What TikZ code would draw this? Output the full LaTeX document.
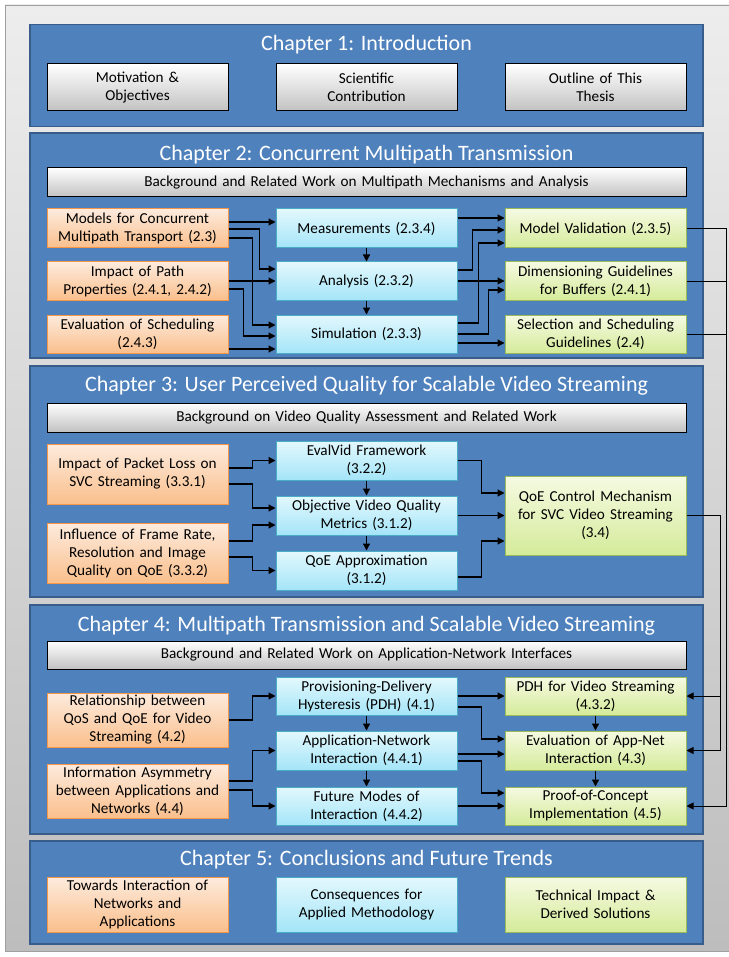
\documentclass[tikz,border=0pt]{standalone}
\usepackage{fontspec}
\setmainfont{Carlito}
\usetikzlibrary{arrows.meta}

\definecolor{bgtop}{HTML}{EDEDED}
\definecolor{bgbot}{HTML}{BDBDBD}
\definecolor{chapblue}{HTML}{4F81BD}
\definecolor{chapedge}{HTML}{385D8A}
\definecolor{ortop}{HTML}{FDEBDD}
\definecolor{orbot}{HTML}{FABF8C}
\definecolor{oredge}{HTML}{F79646}
\definecolor{cytop}{HTML}{E3F8FD}
\definecolor{cybot}{HTML}{A4E5F8}
\definecolor{cyedge}{HTML}{4BACC6}
\definecolor{grtop}{HTML}{F5FAE2}
\definecolor{grbot}{HTML}{D5EB9A}
\definecolor{gredge}{HTML}{9BBB59}

\tikzset{
  chapbox/.style={fill=chapblue, draw=chapedge, line width=1.6pt, minimum width=673pt},
  chaptitle/.style={text=white, font=\fontsize{22}{26}\selectfont, inner sep=0pt},
  item/.style={minimum width=181pt, text width=176pt, align=center, inner sep=0pt,
    font=\fontsize{15.2}{18}\selectfont, line width=1pt},
  graybox/.style={item, top color=white, bottom color=gray!48, draw=black},
  orbox/.style={item, top color=ortop, bottom color=orbot, draw=oredge},
  cybox/.style={item, top color=cytop, bottom color=cybot, draw=cyedge},
  grbox/.style={item, top color=grtop, bottom color=grbot, draw=gredge},
  bgbox/.style={graybox, minimum width=639pt, text width=630pt, minimum height=29pt},
  conn/.style={-{Triangle[length=7pt,width=7pt]}, line width=1.2pt},
  rail/.style={line width=0.9pt},
  railarrow/.style={rail, -{Triangle[length=7pt,width=7pt]}}
}

\begin{document}
\begin{tikzpicture}[x=1pt,y=-1pt]
\useasboundingbox (0,0) rectangle (728,957);
\path[top color=bgtop, bottom color=bgbot, draw=gray!75] (5,5) rectangle (745,951);

\node[chapbox, minimum height=102pt] (ch1) at (366.5,75.5) {};
\node[chapbox, minimum height=225pt] (ch2) at (366.5,245.5) {};
\node[chapbox, minimum height=231pt] (ch3) at (366.5,481.5) {};
\node[chapbox, minimum height=229pt] (ch4) at (366.5,719.5) {};
\node[chapbox, minimum height=103pt] (ch5) at (366.5,892.5) {};

\node[chaptitle] (t1) at (366.5,45) {Chapter 1: Introduction};
\node[chaptitle] (t2) at (366.5,155) {Chapter 2: Concurrent Multipath Transmission};
\node[chaptitle] (t3) at (366.5,386) {Chapter 3: User Perceived Quality for Scalable Video Streaming};
\node[chaptitle] (t4) at (366.5,626) {Chapter 4: Multipath Transmission and Scalable Video Streaming};
\node[chaptitle] (t5) at (366.5,860) {Chapter 5: Conclusions and Future Trends};

\node[graybox, minimum height=47pt] (motiv) at (137.5,87.5) {Motivation \&\\Objectives};
\node[graybox, minimum height=47pt] (contrib) at (366.5,87.5) {Scientific\\Contribution};
\node[graybox, minimum height=47pt] (outline) at (595.5,87.5) {Outline of This\\Thesis};

\node[bgbox] (bg2) at (366.5,182.5) {Background and Related Work on Multipath Mechanisms and Analysis};
\node[orbox, minimum height=39pt] (models) at (137.5,228.5) {Models for Concurrent\\Multipath Transport (2.3)};
\node[orbox, minimum height=38pt] (impact) at (137.5,281) {Impact of Path\\Properties (2.4.1, 2.4.2)};
\node[orbox, minimum height=38pt] (evalsched) at (137.5,334) {Evaluation of Scheduling\\(2.4.3)};
\node[cybox, minimum height=39pt] (meas) at (366.5,228.5) {Measurements (2.3.4)};
\node[cybox, minimum height=38pt] (ana) at (366.5,281) {Analysis (2.3.2)};
\node[cybox, minimum height=38pt] (sim) at (366.5,334) {Simulation (2.3.3)};
\node[grbox, minimum height=39pt] (mv) at (595.5,228.5) {Model Validation (2.3.5)};
\node[grbox, minimum height=38pt] (dim) at (595.5,281) {Dimensioning Guidelines\\for Buffers (2.4.1)};
\node[grbox, minimum height=38pt] (sel) at (595.5,334) {Selection and Scheduling\\Guidelines (2.4)};

\node[bgbox] (bg3) at (366.5,417.5) {Background on Video Quality Assessment and Related Work};
\node[orbox, minimum height=60pt] (pktloss) at (137.5,474) {Impact of Packet Loss on\\SVC Streaming (3.3.1)};
\node[orbox, minimum height=60pt] (framerate) at (137.5,553) {Influence of Frame Rate,\\Resolution and Image\\Quality on QoE (3.3.2)};
\node[cybox, minimum height=39pt] (evalvid) at (366.5,460.5) {EvalVid Framework\\(3.2.2)};
\node[cybox, minimum height=39pt] (objq) at (366.5,515.5) {Objective Video Quality\\Metrics (3.1.2)};
\node[cybox, minimum height=39pt] (qoeapx) at (366.5,570.5) {QoE Approximation\\(3.1.2)};
\node[grbox, minimum height=79pt] (qoectl) at (595.5,515.5) {QoE Control Mechanism\\for SVC Video Streaming\\(3.4)};

\node[bgbox, minimum height=28pt] (bg4) at (366.5,655) {Background and Related Work on Application-Network Interfaces};
\node[orbox, minimum height=54pt] (relqos) at (137.5,720) {Relationship between\\QoS and QoE for Video\\Streaming (4.2)};
\node[orbox, minimum height=54pt] (infoasym) at (137.5,791) {Information Asymmetry\\between Applications and\\Networks (4.4)};
\node[cybox, minimum height=38pt] (pdhp) at (366.5,696) {Provisioning-Delivery\\Hysteresis (PDH) (4.1)};
\node[cybox, minimum height=39pt] (appnet) at (366.5,750.5) {Application-Network\\Interaction (4.4.1)};
\node[cybox, minimum height=38pt] (future) at (366.5,806) {Future Modes of\\Interaction (4.4.2)};
\node[grbox, minimum height=38pt] (pdhvid) at (595.5,696) {PDH for Video Streaming\\(4.3.2)};
\node[grbox, minimum height=39pt] (evalan) at (595.5,750.5) {Evaluation of App-Net\\Interaction (4.3)};
\node[grbox, minimum height=38pt] (proof) at (595.5,806) {Proof-of-Concept\\Implementation (4.5)};

\node[orbox, minimum height=55pt] (towards) at (137.5,904.5) {Towards Interaction of\\Networks and\\Applications};
\node[cybox, minimum height=55pt] (conseq) at (366.5,904.5) {Consequences for\\Applied Methodology};
\node[grbox, minimum height=55pt] (techimp) at (595.5,904.5) {Technical Impact \&\\Derived Solutions};

\draw[conn] ([yshift=6.5pt]models.east) -- ([yshift=6.5pt]meas.west);
\draw[conn] ([yshift=-0.5pt]models.east) -- ++(31,0) |- ([yshift=12pt]ana.west);
\draw[conn] ([yshift=-9.5pt]models.east) -- ++(24,0) |- ([yshift=9pt]sim.west);
\draw[conn] (impact.east) -- (ana.west);
\draw[conn] ([yshift=-8pt]impact.east) -- ++(15,0) |- ([yshift=-2pt]sim.west);
\draw[conn] ([yshift=-15pt]evalsched.east) -- ([yshift=-15pt]sim.west);
\draw[conn] (meas) -- (ana);
\draw[conn] (ana) -- (sim);
\draw[conn] ([yshift=10.5pt]meas.east) -- ([yshift=10.5pt]mv.west);
\draw[conn] ([yshift=11pt]ana.east) -- ++(15,0) |- ([yshift=-1.5pt]mv.west);
\draw[conn] ([yshift=11pt]sim.east) -- ++(21,0) |- ([yshift=-14.5pt]mv.west);
\draw[conn] (ana.east) -- (dim.west);
\draw[conn] (sim.east) -- ++(31,0) |- ([yshift=-9pt]dim.west);
\draw[conn] ([yshift=-9pt]sim.east) -- ([yshift=-9pt]sel.west);

\draw[conn] ([yshift=6pt]pktloss.east) -- ++(24,0) |- (evalvid.west);
\draw[conn] ([yshift=-10pt]pktloss.east) -- ++(24,0) |- ([yshift=7.5pt]objq.west);
\draw[conn] ([yshift=12pt]framerate.east) -- ++(24,0) |- ([yshift=-9.5pt]objq.west);
\draw[conn] ([yshift=-4pt]framerate.east) -- ++(24,0) |- (qoeapx.west);
\draw[conn] (evalvid) -- (objq);
\draw[conn] (objq) -- (qoeapx);
\draw[conn] (evalvid.east) -- ++(24,0) |- ([yshift=22.5pt]qoectl.west);
\draw[conn] (objq.east) -- (qoectl.west);
\draw[conn] ([yshift=-6.5pt]qoeapx.east) -- ++(24,0) |- ([yshift=-25.5pt]qoectl.west);

\draw[conn] (relqos.east) -- ++(24,0) |- (pdhp.west);
\draw[conn] ([yshift=10pt]infoasym.east) -- ++(24,0) |- (appnet.west);
\draw[conn] ([yshift=1pt]infoasym.east) -- ++(24,0) |- (future.west);
\draw[conn] (pdhp) -- (appnet);
\draw[conn] (appnet) -- (future);
\draw[conn] (pdhp.east) -- (pdhvid.west);
\draw[conn] ([yshift=-11pt]pdhp.east) -- ++(24,0) |- ([yshift=11.5pt]evalan.west);
\draw[conn] ([yshift=-3.5pt]appnet.east) -- ([yshift=-3.5pt]evalan.west);
\draw[conn] ([yshift=-10.5pt]appnet.east) -- ++(24,0) |- ([yshift=13pt]proof.west);
\draw[conn] (future.east) -- (proof.west);
\draw[conn] (pdhvid) -- (evalan);
\draw[conn] (evalan) -- (proof);

\draw[railarrow] (mv.east) -- ++(40,0) |- (proof.east);
\draw[rail] (dim.east) -- ++(40,0);
\draw[rail] (sel.east) -- ++(40,0);
\draw[railarrow] (qoectl.east) -- ++(34,0) |- (pdhvid.east);
\draw[railarrow] (qoectl.east) -- ++(34,0) |- (evalan.east);
\end{tikzpicture}
\end{document}
